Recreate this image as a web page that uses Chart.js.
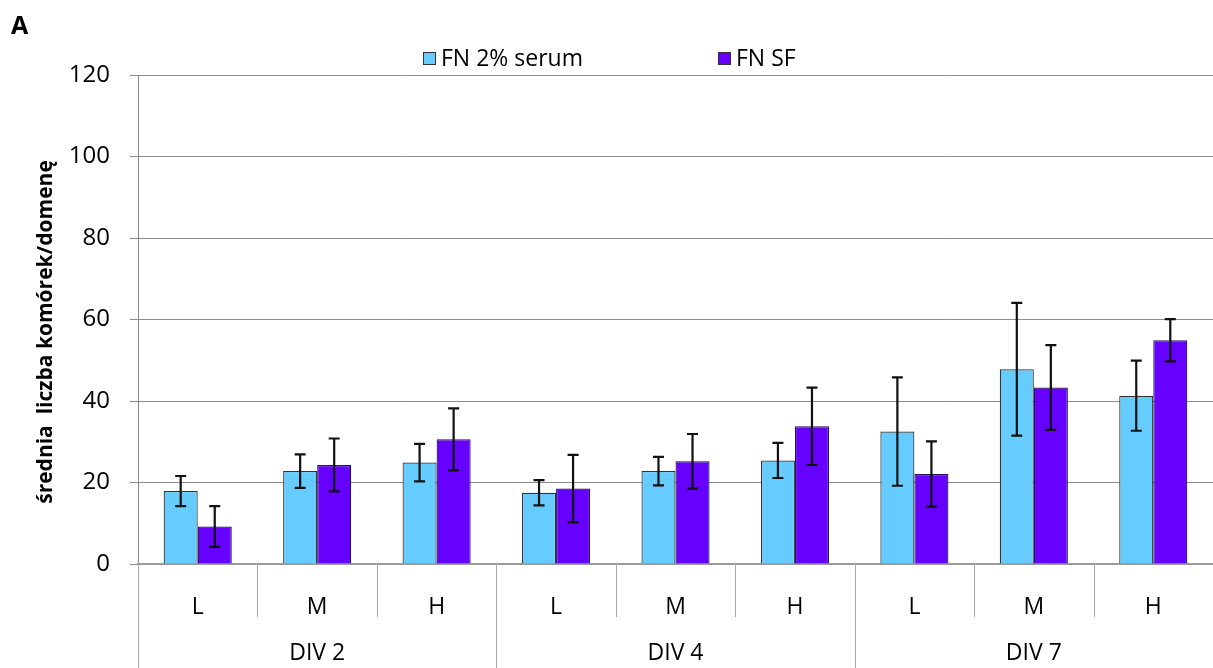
<!DOCTYPE html>
<html>
<head>
<meta charset="utf-8">
<script src="https://cdn.jsdelivr.net/npm/chart.js@4/dist/chart.umd.min.js"></script>
<style>
	html, body { margin: 0; padding: 0; background: #fff; }
	#wrap { position: relative; width: 1213px; height: 668px; }
	#panel { position: absolute; left: 11px; top: 7px; font: bold 25px 'Open Sans', sans-serif; color: #000; }
	#legend { position: absolute; top: 43px; left: 0; height: 28px; font: 23px 'Open Sans', sans-serif; color: #000; }
	.item { position: absolute; top: 0; white-space: nowrap; line-height: 28px; }
	.swatch { display: inline-block; width: 11px; height: 11px; border: 1px solid #333; margin-right: 5px; vertical-align: 1px; }
</style>
</head>
<body>
<div id="wrap">
	<canvas id="chart"></canvas>
	<div id="panel">A</div>
	<div id="legend"></div>
</div>
<script>
const levels = ['L', 'M', 'H', 'L', 'M', 'H', 'L', 'M', 'H'];
const groups = ['DIV 2', 'DIV 4', 'DIV 7'];
const serumValues = [17.9, 22.8, 24.9, 17.5, 22.8, 25.4, 32.5, 47.8, 41.3];
const serumErrors = [3.7, 4.1, 4.6, 3.1, 3.5, 4.3, 13.3, 16.3, 8.6];
const sfValues = [9.2, 24.3, 30.6, 18.5, 25.2, 33.8, 22.1, 43.3, 54.9];
const sfErrors = [5.0, 6.5, 7.6, 8.3, 6.7, 9.5, 8.0, 10.4, 5.2];
const yTitle = 'średnia  liczba komórek/domenę';

const FONT = "'Open Sans', sans-serif";

// error bars drawn on top of each bar
const errorBars = {
	id: 'errorBars',
	afterDatasetsDraw(chart) {
		const ctx = chart.ctx;
		const y = chart.scales.y;
		chart.data.datasets.forEach((ds, i) => {
			chart.getDatasetMeta(i).data.forEach((bar, j) => {
				const v = ds.data[j];
				const e = ds.errors[j];
				const top = y.getPixelForValue(v + e);
				const bot = y.getPixelForValue(v - e);
				ctx.save();
				ctx.strokeStyle = '#111';
				ctx.lineWidth = 2.2;
				ctx.beginPath();
				ctx.moveTo(bar.x, top); ctx.lineTo(bar.x, bot);
				ctx.moveTo(bar.x - 5.5, top); ctx.lineTo(bar.x + 5.5, top);
				ctx.moveTo(bar.x - 5.5, bot); ctx.lineTo(bar.x + 5.5, bot);
				ctx.stroke();
				ctx.restore();
			});
		});
	}
};

// two-level category axis: separators + DIV group labels, plus rotated y title
const groupAxis = {
	id: 'groupAxis',
	afterDraw(chart) {
		const { ctx, chartArea } = chart;
		const x = chart.scales.x;
		const step = x.getPixelForValue(1) - x.getPixelForValue(0);
		const innerBottom = chartArea.bottom + 53;
		ctx.save();
		ctx.strokeStyle = '#a8a8a8';
		ctx.lineWidth = 1;
		for (let i = 0; i <= levels.length; i++) {
			const px = Math.round(x.getPixelForValue(0) - step / 2 + i * step) + 0.5;
			ctx.beginPath();
			ctx.moveTo(px, chartArea.bottom);
			ctx.lineTo(px, i % 3 === 0 ? chart.height : innerBottom);
			ctx.stroke();
		}
		ctx.fillStyle = '#000';
		ctx.font = '23px ' + FONT;
		ctx.textAlign = 'center';
		ctx.textBaseline = 'middle';
		groups.forEach((g, k) => {
			ctx.fillText(g, x.getPixelForValue(k * 3 + 1), 653);
		});
		ctx.translate(46, 332);
		ctx.rotate(-Math.PI / 2);
		ctx.font = 'bold 21px ' + FONT;
		ctx.fillText(yTitle, 0, 0);
		ctx.restore();
	}
};

function renderLegend(chart) {
	const legend = document.getElementById('legend');
	const lefts = [423, 718];
	chart.data.datasets.forEach((ds, i) => {
		const item = document.createElement('div');
		item.className = 'item';
		item.style.left = lefts[i] + 'px';
		item.innerHTML = `<span class="swatch" style="background:${ds.backgroundColor}"></span>${ds.label}`;
		legend.appendChild(item);
	});
}

const ctx = document.getElementById('chart').getContext('2d');
const chart = new Chart(ctx, {
	type: 'bar',
	data: {
		labels: levels,
		datasets: [
			{
				label: 'FN 2% serum',
				data: serumValues,
				errors: serumErrors,
				backgroundColor: '#66ccff',
				borderColor: '#333333',
				borderWidth: 1.2
			},
			{
				label: 'FN SF',
				data: sfValues,
				errors: sfErrors,
				backgroundColor: '#6600ff',
				borderColor: '#221050',
				borderWidth: 1.2
			}
		]
	},
	options: {
		responsive: true,
		maintainAspectRatio: false,
		animation: false,
		layout: { padding: { top: 75, right: 0, left: 0, bottom: 0 } },
		plugins: {
			legend: { display: false },
			tooltip: { enabled: false }
		},
		datasets: {
			bar: { categoryPercentage: 0.57, barPercentage: 1.0 }
		},
		scales: {
			x: {
				offset: true,
				grid: { display: false },
				border: { color: '#9a9a9a', width: 2 },
				ticks: { color: '#000', font: { family: FONT, size: 23 }, padding: 22, maxRotation: 0 },
				afterFit(scale) { scale.height = 104; }
			},
			y: {
				min: 0,
				max: 120,
				ticks: { stepSize: 20, color: '#000', font: { family: FONT, size: 24 }, padding: 20 },
				grid: { color: '#8c8c8c', tickLength: 8 },
				border: { color: '#8c8c8c' },
				afterFit(scale) { scale.width = 138; }
			}
		}
	},
	plugins: [errorBars, groupAxis]
});
renderLegend(chart);
</script>
</body>
</html>
